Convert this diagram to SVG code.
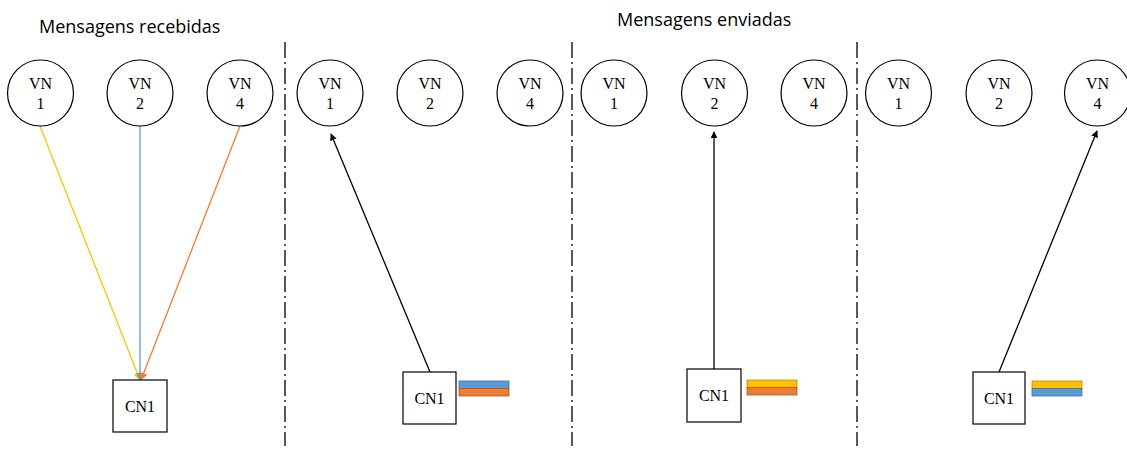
<svg xmlns="http://www.w3.org/2000/svg" width="1127" height="450" viewBox="0 0 1127 450">
  <style>
    .title { font-family: "Open Sans", "Liberation Sans", sans-serif; font-size: 18px; fill: #000; }
    .vn circle { fill: #fff; stroke: #000; stroke-width: 1.2; }
    .lbl { font-family: "Liberation Serif", serif; font-size: 16px; fill: #000; text-anchor: middle; }
    .cn rect { fill: #fff; stroke: #000; stroke-width: 1.2; }
    .div { stroke: #000; stroke-width: 1.3; stroke-dasharray: 16 4 2 4; fill: none; }
    .edge { fill: none; stroke-width: 1.3; }
    .bar { stroke-width: 0.8; }
  </style>
  <defs>
    <marker id="ah-k" viewBox="0 0 10 10" refX="9" refY="5" markerWidth="7" markerHeight="7" orient="auto" markerUnits="userSpaceOnUse">
      <path d="M0,0 L10,5 L0,10 z" fill="#000"/>
    </marker>
    <marker id="ah-y" viewBox="0 0 10 10" refX="9" refY="5" markerWidth="8" markerHeight="8" orient="auto" markerUnits="userSpaceOnUse">
      <path d="M0,0 L10,5 L0,10 z" fill="#FFC000"/>
    </marker>
    <marker id="ah-b" viewBox="0 0 10 10" refX="9" refY="5" markerWidth="8" markerHeight="8" orient="auto" markerUnits="userSpaceOnUse">
      <path d="M0,0 L10,5 L0,10 z" fill="#5B9BD5"/>
    </marker>
    <marker id="ah-o" viewBox="0 0 10 10" refX="9" refY="5" markerWidth="8" markerHeight="8" orient="auto" markerUnits="userSpaceOnUse">
      <path d="M0,0 L10,5 L0,10 z" fill="#ED7D31"/>
    </marker>
  </defs>

  <!-- headings -->
  <text class="title" x="39" y="33">Mensagens recebidas</text>
  <text class="title" x="617" y="26">Mensagens enviadas</text>

  <!-- panel separators -->
  <g id="separators">
    <line class="div" x1="285" y1="42" x2="285" y2="446"/>
    <line class="div" x1="572" y1="42" x2="572" y2="446"/>
    <line class="div" x1="857" y1="42" x2="857" y2="446"/>
  </g>

  <!-- connectors -->
  <g id="connectors">
    <line class="edge" stroke="#FFC000" x1="40" y1="126" x2="140" y2="380" marker-end="url(#ah-y)"/>
    <line class="edge" stroke="#5B9BD5" x1="140" y1="126" x2="140" y2="380" marker-end="url(#ah-b)"/>
    <line class="edge" stroke="#ED7D31" x1="240" y1="126" x2="141" y2="380" marker-end="url(#ah-o)"/>
    <line class="edge" stroke="#000" x1="430" y1="372" x2="331" y2="134" marker-end="url(#ah-k)"/>
    <line class="edge" stroke="#000" x1="714" y1="369" x2="714" y2="132" marker-end="url(#ah-k)"/>
    <line class="edge" stroke="#000" x1="999" y1="372" x2="1097" y2="131" marker-end="url(#ah-k)"/>
  </g>

  <!-- panel 1 -->
  <g id="p1-vn1" class="vn"><circle cx="40.5" cy="93" r="33"/><text class="lbl" x="40.5" y="89">VN</text><text class="lbl" x="40.5" y="109">1</text></g>
  <g id="p1-vn2" class="vn"><circle cx="140" cy="93" r="33"/><text class="lbl" x="140" y="89">VN</text><text class="lbl" x="140" y="109">2</text></g>
  <g id="p1-vn4" class="vn"><circle cx="240" cy="93" r="33"/><text class="lbl" x="240" y="89">VN</text><text class="lbl" x="240" y="109">4</text></g>
  <g id="p1-cn1" class="cn"><rect x="113" y="380" width="54" height="52"/><text class="lbl" x="140" y="412">CN1</text></g>

  <!-- panel 2 -->
  <g id="p2-vn1" class="vn"><circle cx="330" cy="93" r="33"/><text class="lbl" x="330" y="89">VN</text><text class="lbl" x="330" y="109">1</text></g>
  <g id="p2-vn2" class="vn"><circle cx="430" cy="93" r="33"/><text class="lbl" x="430" y="89">VN</text><text class="lbl" x="430" y="109">2</text></g>
  <g id="p2-vn4" class="vn"><circle cx="530" cy="93" r="33"/><text class="lbl" x="530" y="89">VN</text><text class="lbl" x="530" y="109">4</text></g>
  <g id="p2-cn1" class="cn"><rect x="403" y="372" width="53" height="52"/><text class="lbl" x="429.5" y="404">CN1</text></g>
  <g id="p2-msgs">
    <rect class="bar" x="459" y="381" width="50" height="7.5" fill="#5B9BD5" stroke="#41719C"/>
    <rect class="bar" x="459" y="388.5" width="50" height="7.5" fill="#ED7D31" stroke="#AE5A21"/>
  </g>

  <!-- panel 3 -->
  <g id="p3-vn1" class="vn"><circle cx="614" cy="93" r="33"/><text class="lbl" x="614" y="89">VN</text><text class="lbl" x="614" y="109">1</text></g>
  <g id="p3-vn2" class="vn"><circle cx="714.5" cy="93" r="33"/><text class="lbl" x="714.5" y="89">VN</text><text class="lbl" x="714.5" y="109">2</text></g>
  <g id="p3-vn4" class="vn"><circle cx="814" cy="93" r="33"/><text class="lbl" x="814" y="89">VN</text><text class="lbl" x="814" y="109">4</text></g>
  <g id="p3-cn1" class="cn"><rect x="687" y="369" width="54" height="53"/><text class="lbl" x="714" y="401">CN1</text></g>
  <g id="p3-msgs">
    <rect class="bar" x="747" y="380" width="50" height="7.5" fill="#FFC000" stroke="#BC8C00"/>
    <rect class="bar" x="747" y="387.5" width="50" height="7.5" fill="#ED7D31" stroke="#AE5A21"/>
  </g>

  <!-- panel 4 -->
  <g id="p4-vn1" class="vn"><circle cx="898.5" cy="93" r="33"/><text class="lbl" x="898.5" y="89">VN</text><text class="lbl" x="898.5" y="109">1</text></g>
  <g id="p4-vn2" class="vn"><circle cx="999" cy="93" r="33"/><text class="lbl" x="999" y="89">VN</text><text class="lbl" x="999" y="109">2</text></g>
  <g id="p4-vn4" class="vn"><circle cx="1097.5" cy="93" r="33"/><text class="lbl" x="1097.5" y="89">VN</text><text class="lbl" x="1097.5" y="109">4</text></g>
  <g id="p4-cn1" class="cn"><rect x="973" y="372" width="52" height="52"/><text class="lbl" x="999" y="404">CN1</text></g>
  <g id="p4-msgs">
    <rect class="bar" x="1032" y="381" width="50" height="7.5" fill="#FFC000" stroke="#BC8C00"/>
    <rect class="bar" x="1032" y="388.5" width="50" height="7.5" fill="#5B9BD5" stroke="#41719C"/>
  </g>
</svg>
